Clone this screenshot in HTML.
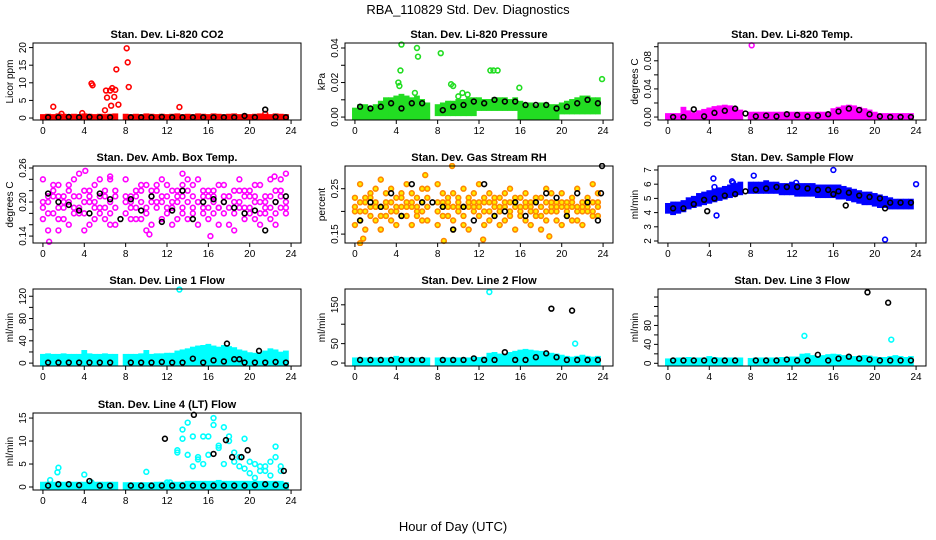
<!DOCTYPE html>
<html><head><meta charset="utf-8"><style>
html,body{margin:0;padding:0;background:#fff;}
svg{display:block;font-family:"Liberation Sans",Arial,sans-serif;}
</style></head><body>
<svg id="chart" width="936" height="540" viewBox="0 0 936 540" xmlns="http://www.w3.org/2000/svg">
<text x="468" y="14" text-anchor="middle" font-size="13">RBA_110829  Std. Dev. Diagnostics</text>
<text x="453" y="531" text-anchor="middle" font-size="13">Hour of Day (UTC)</text>
</svg>
<script>
const hours = [0,0.5,1,1.5,2,2.5,3,3.5,4,4.5,5,5.5,6,6.5,7,7.5,8,8.5,9,9.5,10,10.5,11,11.5,12,12.5,13,13.5,14,14.5,15,15.5,16,16.5,17,17.5,18,18.5,19,19.5,20,20.5,21,21.5,22,22.5,23,23.5];
const blackHours = [0.5,1.5,2.5,3.5,4.5,5.5,6.5,7.5,8.5,9.5,10.5,11.5,12.5,13.5,14.5,15.5,16.5,17.5,18.5,19.5,20.5,21.5,22.5,23.5];
const xTicks = [0,4,8,12,16,20,24];

const co2Hi = [0.4,0.5,0.4,0.6,0.5,0.4,0.5,0.4,0.6,0.5,0.4,0.5,0.4,0.5,0.6,null,0.5,0.4,0.5,0.4,0.6,0.5,0.4,0.5,0.4,0.5,0.6,0.4,0.5,0.4,0.6,0.5,0.4,0.6,0.5,0.4,0.5,0.6,0.4,0.5,0.4,0.5,0.6,0.5,0.4,0.6,0.5,0.4];
const co2OutX = [1,1.8,3.8,4.7,4.8,6,6.1,6.2,6.5,6.6,6.7,6.9,7,7.1,7.3,8.1,8.2,8.3,13.2,21.5];
const co2OutY = [3.2,1.2,1.4,9.8,9.3,2.2,7.8,5.8,7.8,3.5,8.5,6,8,13.8,3.8,19.8,15.8,8.8,3.1,1.2];
const co2Black = [0.2,0.2,0.3,0.2,0.3,0.2,0.2,null,0.2,0.2,0.2,0.3,0.2,0.2,0.2,0.2,0.2,0.2,0.2,0.6,0.2,2.4,0.3,0.2];

const presLo = [0,0,0,0,0,0,0,0,0,0,0,0,0,0,0,null,0.002,0.002,0.002,0.002,0.002,0.002,0.002,0.002,0.005,0.005,0.005,0.005,0.005,0.005,0.005,0.005,0,0,0,0,0,0,0,0,0.003,0.003,0.003,0.003,0.003,0.003,0.003,0.003];
const presHi = [0.004,0.006,0.006,0.005,0.006,0.008,0.010,0.010,0.011,0.012,0.011,0.010,0.011,0.009,0.007,null,0.006,0.007,0.008,0.008,0.009,0.009,0.010,0.010,0.010,0.009,0.009,0.010,0.010,0.010,0.009,0.010,0.008,0.007,0.007,0.006,0.007,0.007,0.006,0.006,0.007,0.008,0.009,0.010,0.011,0.011,0.010,0.010];
const presOutX = [4.2,4.3,4.4,4.5,5.8,6,6.1,8.3,9.3,9.5,10,10.4,10.9,13.1,13.4,13.8,15.9,23.9];
const presOutY = [0.020,0.018,0.027,0.042,0.014,0.040,0.035,0.037,0.019,0.018,0.012,0.014,0.013,0.027,0.027,0.027,0.017,0.022];
const presBlack = [0.006,0.005,0.006,0.008,0.005,0.008,0.008,null,0.004,0.006,0.007,0.009,0.008,0.010,0.009,0.009,0.007,0.007,0.007,0.005,0.006,0.008,0.010,0.008];

const tempLo = [0,0,0,0,0,0,0,0,0,0,0,0,0,0,0,null,0,0,0,0,0,0,0,0,0,0,0,0,0,0,0,0,0,0,0,0,0,0,0,0,0,0,0,0,0,0,0,0];
const tempHi = [0.002,0.002,0.002,0.011,0.006,0.003,0.006,0.008,0.010,0.012,0.013,0.014,0.013,0.011,0.007,null,0.004,0.004,0.004,0.004,0.004,0.004,0.004,0.004,0.004,0.004,0.004,0.004,0.004,0.004,0.004,0.004,0.009,0.011,0.013,0.014,0.013,0.011,0.009,0.007,0.004,0.002,0.002,0.002,0.002,0.002,0.002,0.002];
const tempOutX = [8.1];
const tempOutY = [0.102];
const tempBlack = [0.000,0.000,0.011,0.001,0.006,0.009,0.012,0.005,0.001,0.002,0.001,0.004,0.003,0.001,0.002,0.004,0.008,0.012,0.010,0.004,0.001,0.000,0.000,0.000];

const ambA = [.24,.21,.18,.23,.17,.22,.19,.25,.20,.16,.23,.18,.21,.24,.19,null,.24,.20,.22,.17,.23,.21,.19,.24,.18,.22,.20,.23,.17,.21,.24,.19,.22,.18,.23,.20,.16,.22,.24,.19,.21,.17,.23,.20,.24,.18,.22,.25];
const ambB = [.17,.20,.23,.19,.21,.16,.24,.18,.22,.20,.17,.21,.19,.16,.22,null,.18,.21,.17,.23,.19,.16,.22,.20,.23,.19,.17,.21,.24,.18,.20,.22,.17,.21,.19,.23,.21,.18,.20,.17,.22,.20,.18,.21,.17,.22,.19,.20];
const ambC = [.20,.15,.21,.17,.20,.23,.18,.21,.15,.22,.19,.24,.17,.20,.16,null,.21,.17,.19,.22,.15,.20,.23,.17,.21,.16,.22,.19,.20,.23,.16,.21,.19,.22,.16,.18,.21,.15,.19,.22,.18,.23,.16,.19,.21,.16,.24,.18];
const ambD = [.19,.18,.22,.21,.19,.20,.21,.19,.18,.21,.20,.19,.22,.18,.21,null,.20,.19,.21,.20,.18,.22,.20,.21,.19,.20,.21,.18,.22,.19,.20,.18,.21,.20,.19,.21,.19,.20,.22,.21,.19,.21,.20,.18,.19,.20,.21,.19];
const ambOutX = [0.6,1.5,4.1,10.3,16.2,22.4,6.5,13.5];
const ambOutY = [0.13,0.15,0.255,0.143,0.14,0.245,0.245,0.25];
const ambBlack = [.215,.20,.195,.185,.18,.215,.205,.17,.205,.185,.21,.165,.185,.22,.17,.20,.205,.20,.19,.18,.185,.15,.20,.21];

const rhA = [.23,.26,.20,.24,.22,.27,.19,.25,.23,.21,.26,.24,.20,.22,.25,null,.26,.22,.19,.24,.21,.25,.23,.20,.26,.22,.24,.19,.23,.21,.25,.22,.20,.24,.22,.19,.23,.25,.21,.20,.24,.22,.21,.25,.20,.23,.26,.22];
const rhB = [.20,.18,.23,.19,.25,.21,.24,.18,.20,.24,.19,.21,.23,.18,.21,null,.20,.24,.22,.18,.23,.19,.21,.24,.19,.23,.18,.22,.20,.24,.19,.21,.23,.18,.21,.23,.19,.22,.24,.18,.21,.19,.23,.18,.22,.20,.19,.24];
const rhC = [.17,.22,.16,.21,.18,.16,.22,.20,.17,.19,.22,.17,.19,.25,.18,null,.17,.19,.21,.16,.20,.17,.16,.21,.22,.17,.20,.23,.17,.18,.22,.16,.19,.21,.17,.20,.16,.18,.20,.22,.17,.20,.18,.20,.17,.21,.22,.19];
const rhD = [.21,.20,.22,.23,.21,.19,.21,.22,.21,.23,.21,.22,.21,.20,.23,null,.22,.21,.23,.21,.22,.21,.22,.22,.21,.20,.22,.21,.21,.22,.20,.23,.21,.22,.20,.22,.21,.20,.22,.21,.22,.21,.22,.21,.21,.22,.20,.21];
const rhOutX = [0.5,0.8,6.8,9.4,8.6,12.4,18.8,2.5];
const rhOutY = [0.13,0.14,0.28,0.30,0.135,0.138,0.145,0.16];
const rhBlack = [.18,.22,.21,.24,.19,.26,.22,.22,.21,.16,.21,.18,.26,.19,.20,.22,.19,.22,.24,.23,.19,.24,.22,.18];
const rhBlackExX = [23.9,23.8];
const rhBlackExY = [0.30,0.24];

const sfLo = [4.1,4.0,4.1,4.2,4.4,4.5,4.6,4.7,4.8,4.9,5.0,5.1,5.2,5.3,5.4,null,5.5,5.5,5.5,5.5,5.5,5.5,5.4,5.4,5.4,5.3,5.3,5.3,5.3,5.2,5.2,5.2,5.2,5.1,5.1,5.0,4.9,4.8,4.7,4.7,4.6,4.5,4.5,4.4,4.4,4.4,4.4,4.4];
const sfHi = [4.5,4.6,4.6,4.7,4.9,5.0,5.2,5.3,5.4,5.5,5.6,5.7,5.8,5.9,6.0,null,6.0,6.0,6.0,6.1,6.0,6.0,5.9,5.9,6.0,5.9,5.9,5.9,5.9,5.8,5.8,5.8,5.8,5.8,5.7,5.6,5.5,5.4,5.3,5.3,5.2,5.1,5.0,4.9,4.8,4.8,4.8,4.8];
const sfOutX = [4.4,4.5,4.7,6.2,8.3,16,21,24,6.3,12.4];
const sfOutY = [6.4,5.8,3.8,6.2,6.6,7.0,2.1,6.0,6.1,6.1];
const sfBlack = [4.3,4.3,4.6,4.9,5.0,5.2,5.3,5.5,5.6,5.7,5.8,5.8,5.8,5.7,5.6,5.6,5.5,5.4,5.2,5.1,5.0,4.7,4.7,4.7];
const sfBlackExX = [3.8,17.2,21,16];
const sfBlackExY = [4.1,4.5,4.3,5.3];

const l1Lo = [0,0,0,0,0,0,0,0,0,0,0,0,0,0,0,null,0,0,0,0,0,0,0,0,0,0,0,0,0,0,0,0,0,0,0,0,0,0,0,0,0,0,0,0,0,0,0,0];
const l1Hi = [12,13,12,12,13,12,12,12,19,13,12,12,13,12,12,null,12,12,12,13,19,12,13,13,14,14,18,20,22,25,27,28,30,27,25,28,26,24,20,18,15,14,15,18,22,20,16,18];
const l1OutX = [13.2];
const l1OutY = [132];
const l1Black = [1,1,1,1,1,1,1,null,1,1,1,2,1,1,8,1,5,3,7,1,1,1,2,1];
const l1BlackExX = [17.8,20.9,19];
const l1BlackExY = [35,22,7];

const l2Hi = [8,8,8,8,8,8,8,8,12,8,8,8,8,8,8,null,8,8,8,8,8,8,8,10,9,10,20,22,18,15,22,25,28,30,28,26,25,22,20,18,15,12,10,12,15,12,10,12];
const l2OutX = [13,21.3];
const l2OutY = [183,50];
const l2Black = [8,8,8,8,8,8,8,null,8,8,8,12,8,8,28,8,8,15,25,15,8,8,8,8];
const l2BlackExX = [19,21];
const l2BlackExY = [140,135];

const l3Hi = [5,6,7,7,8,7,7,7,10,8,7,7,7,7,7,null,6,7,7,7,7,7,8,8,9,9,15,16,12,10,12,14,15,14,12,12,10,10,12,11,9,8,8,10,12,10,8,10];
const l3OutX = [13.2,21.6];
const l3OutY = [58,50];
const l3Black = [6,6,6,6,6,6,6,null,6,6,6,8,6,6,18,6,10,14,10,8,6,6,6,6];
const l3BlackExX = [19.3,21.3];
const l3BlackExY = [150,128];

const l4Hi = [0.6,0.6,0.6,0.6,0.6,0.6,0.6,0.6,0.6,0.6,0.6,0.6,0.6,0.6,0.6,null,0.5,0.5,0.5,0.5,0.5,0.5,0.6,0.6,0.7,0.6,0.6,0.6,0.8,0.8,0.8,0.8,0.8,0.8,1.0,0.8,0.8,0.8,0.8,0.8,0.8,0.8,0.8,0.8,0.8,0.8,0.8,0.5];
const l4A = [null,null,null,null,null,null,null,null,null,null,null,null,null,null,null,null,null,null,null,null,null,null,null,null,null,null,7.5,12.5,14,11,6.5,5,11,13.5,9,13,10,5.5,4.5,10.5,3,5,4.5,3.5,5.5,6.5,3.5,null];
const l4B = [null,null,null,null,null,null,null,null,null,null,null,null,null,null,null,null,null,null,null,null,null,null,null,null,null,null,8,10.5,7,4.5,6,11,7,15,8.5,5,11,7.5,6.5,4,5.5,2,3.5,4.5,2.5,8.8,4.5,null];
const l4OutX = [0.7,1.4,1.5,4,4.7,10,12,12.3];
const l4OutY = [1.5,3.2,4.2,2.7,1.0,3.3,1.0,1.0];
const l4Black = [0.3,0.6,0.6,0.4,1.3,0.3,0.3,null,0.3,0.3,0.3,0.3,0.3,0.3,0.3,0.3,0.3,0.3,0.3,0.3,0.4,0.6,0.5,0.3];
const l4BlackExX = [11.8,14.6,16.5,17.7,18.3,19.2,19.8,23.3];
const l4BlackExY = [10.5,15.7,7.2,10.2,6.5,6.5,8,3.5];

const NS = "http://www.w3.org/2000/svg";
const svg = document.getElementById('chart');
const colLeft = [33, 345, 658];
const rowTop = [43, 166, 289, 413];
const BW = 268, BH = 77;

function mk(tag, attrs, parent){
  const e = document.createElementNS(NS, tag);
  for (const k in attrs) e.setAttribute(k, attrs[k]);
  (parent || svg).appendChild(e);
  return e;
}

const panels = [
 {key:'co2', col:0,row:0,title:'Stan. Dev. Li-820 CO2', ylab:'Licor ppm', yr:[-0.56,21.3], ticks:[0,5,10,15,20], labels:['0','5','10','15','20'], color:'#ff0000', fill:'none',
  bands:[[null,co2Hi]], clouds:[], outX:co2OutX, outY:co2OutY, black:co2Black, bx:[], by:[]},
 {key:'pressure', col:1,row:0,title:'Stan. Dev. Li-820 Pressure', ylab:'kPa', yr:[-0.0017,0.0429], ticks:[0,0.01,0.02,0.03,0.04], labels:['0.00','','0.02','','0.04'], color:'#22dd22', fill:'none',
  bands:[[presLo,presHi]], clouds:[], outX:presOutX, outY:presOutY, black:presBlack, bx:[], by:[]},
 {key:'temp', col:2,row:0,title:'Stan. Dev. Li-820 Temp.', ylab:'degrees C', yr:[-0.0042,0.1053], ticks:[0,0.02,0.04,0.06,0.08,0.10], labels:['0.00','','0.04','','0.08',''], color:'#ff00ff', fill:'none',
  bands:[[tempLo,tempHi]], clouds:[], outX:tempOutX, outY:tempOutY, black:tempBlack, bx:[], by:[]},
 {key:'amb-box-temp', col:0,row:1,title:'Stan. Dev. Amb. Box Temp.', ylab:'degrees C', yr:[0.1278,0.2635], ticks:[0.14,0.16,0.18,0.20,0.22,0.24,0.26], labels:['0.14','','','0.20','','','0.26'], color:'#ff00ff', fill:'none',
  bands:[], clouds:[ambA,ambB,ambC,ambD], outX:ambOutX, outY:ambOutY, black:ambBlack, bx:[], by:[]},
 {key:'gas-stream-rh', col:1,row:1,title:'Stan. Dev. Gas Stream RH', ylab:'percent', yr:[0.1304,0.30], ticks:[0.15,0.20,0.25], labels:['0.15','','0.25'], color:'#ff8800', fill:'#ffee00',
  bands:[], clouds:[rhA,rhB,rhC,rhD], outX:rhOutX, outY:rhOutY, black:rhBlack, bx:rhBlackExX, by:rhBlackExY},
 {key:'sample-flow', col:2,row:1,title:'Stan. Dev. Sample Flow', ylab:'ml/min', yr:[1.86,7.28], ticks:[2,3,4,5,6,7], labels:['2','3','4','5','6','7'], color:'#0000ff', fill:'none',
  bands:[[sfLo,sfHi]], clouds:[], outX:sfOutX, outY:sfOutY, black:sfBlack, bx:sfBlackExX, by:sfBlackExY},
 {key:'line1-flow', col:0,row:2,title:'Stan. Dev. Line 1 Flow', ylab:'ml/min', yr:[-5.2,133], ticks:[0,20,40,60,80,100,120], labels:['0','','40','','80','','120'], color:'#00ffff', fill:'none',
  bands:[[l1Lo,l1Hi]], clouds:[], outX:l1OutX, outY:l1OutY, black:l1Black, bx:l1BlackExX, by:l1BlackExY},
 {key:'line2-flow', col:1,row:2,title:'Stan. Dev. Line 2 Flow', ylab:'ml/min', yr:[-7.6,190.7], ticks:[0,50,100,150], labels:['0','50','','150'], color:'#00ffff', fill:'none',
  bands:[[null,l2Hi]], clouds:[], outX:l2OutX, outY:l2OutY, black:l2Black, bx:l2BlackExX, by:l2BlackExY},
 {key:'line3-flow', col:2,row:2,title:'Stan. Dev. Line 3 Flow', ylab:'ml/min', yr:[-5.7,157], ticks:[0,20,40,60,80,100,120,140], labels:['0','','40','','80','','',''], color:'#00ffff', fill:'none',
  bands:[[null,l3Hi]], clouds:[], outX:l3OutX, outY:l3OutY, black:l3Black, bx:l3BlackExX, by:l3BlackExY},
 {key:'line4-flow', col:0,row:3,title:'Stan. Dev. Line 4 (LT) Flow', ylab:'ml/min', yr:[-0.65,16.1], ticks:[0,5,10,15], labels:['0','5','10','15'], color:'#00ffff', fill:'none',
  bands:[[null,l4Hi]], clouds:[l4A,l4B], outX:l4OutX, outY:l4OutY, black:l4Black, bx:l4BlackExX, by:l4BlackExY}
];

panels.forEach(p => {
  const L = colLeft[p.col], T = rowTop[p.row];
  const xs = h => L + (h + 0.96) / 25.92 * BW;
  const ys = v => T + BH - (v - p.yr[0]) / (p.yr[1] - p.yr[0]) * BH;
  const g = mk('g', {});
  
  
  const clipId = 'clip-' + p.key;
  const cp = mk('clipPath', {id: clipId}, g);
  mk('rect', {x: L, y: T - 3, width: BW, height: BH + 6}, cp);

  const t = mk('text', {x: L + BW/2, y: T - 5, 'text-anchor':'middle', 'font-size':'11', 'font-weight':'bold'}, g);
  t.textContent = p.title;
  
  

  const yl = mk('text', {x: 0, y: 0, 'text-anchor':'middle', 'font-size':'10', transform:'translate(' + (L - 20) + ',' + (T + BH/2) + ') rotate(-90)'}, g);
  yl.textContent = p.ylab;
  
  

  const dg = mk('g', {'clip-path': 'url(#' + clipId + ')'}, g);
  
  
  p.bands.forEach(b => {
    const lo = b[0], hi = b[1];
    hi.forEach((v, i) => {
      if (v === null) return;
      const l = lo ? lo[i] : 0;
      const y1 = ys(v), y2 = ys(l);
      const r = mk('rect', {x: xs(hours[i]) - 2.9, y: y1 - 2.5, width: 5.8, height: Math.max(5, y2 - y1 + 5), fill: p.color}, dg);
      
      
    });
  });
  p.clouds.forEach(arr => {
    arr.forEach((v, i) => {
      if (v === null) return;
      const c = mk('circle', {cx: xs(hours[i]), cy: ys(v), r: 2.4, fill: p.fill, stroke: p.color, 'stroke-width': 1.6}, dg);
      
      
    });
  });
  p.outX.forEach((h, i) => {
    const c = mk('circle', {cx: xs(h), cy: ys(p.outY[i]), r: 2.4, fill: p.fill, stroke: p.color, 'stroke-width': 1.6}, dg);
    
    
  });
  p.black.forEach((v, i) => {
    if (v === null) return;
    const c = mk('circle', {cx: xs(blackHours[i]), cy: ys(v), r: 2.4, fill: 'none', stroke: '#000', 'stroke-width': 1.6}, dg);
    
    
  });
  p.bx.forEach((h, i) => {
    const c = mk('circle', {cx: xs(h), cy: ys(p.by[i]), r: 2.4, fill: 'none', stroke: '#000', 'stroke-width': 1.6}, dg);
    
    
  });

  const box = mk('rect', {x: L, y: T, width: BW, height: BH, fill: 'none', stroke: '#000', 'stroke-width': 1}, g);
  
  

  const xa = mk('g', {}, g);
  
  
  mk('line', {x1: xs(0), x2: xs(24), y1: T + BH, y2: T + BH, stroke: '#000'}, xa);
  xTicks.forEach(h => {
    mk('line', {x1: xs(h), x2: xs(h), y1: T + BH, y2: T + BH + 4, stroke: '#000'}, xa);
    const tx = mk('text', {x: xs(h), y: T + BH + 14, 'text-anchor':'middle', 'font-size':'10'}, xa);
    tx.textContent = h;
    
    
  });

  const ya = mk('g', {}, g);
  
  
  mk('line', {x1: L, x2: L, y1: ys(p.ticks[0]), y2: ys(p.ticks[p.ticks.length-1]), stroke: '#000'}, ya);
  p.ticks.forEach((v, i) => {
    mk('line', {x1: L - 4, x2: L, y1: ys(v), y2: ys(v), stroke: '#000'}, ya);
    if (p.labels[i]) {
      const ty = mk('text', {x: 0, y: 0, 'text-anchor':'middle', 'font-size':'10', transform:'translate(' + (L - 7) + ',' + ys(v) + ') rotate(-90)'}, ya);
      ty.textContent = p.labels[i];
      
      
    }
  });
});
</script>
</body></html>
